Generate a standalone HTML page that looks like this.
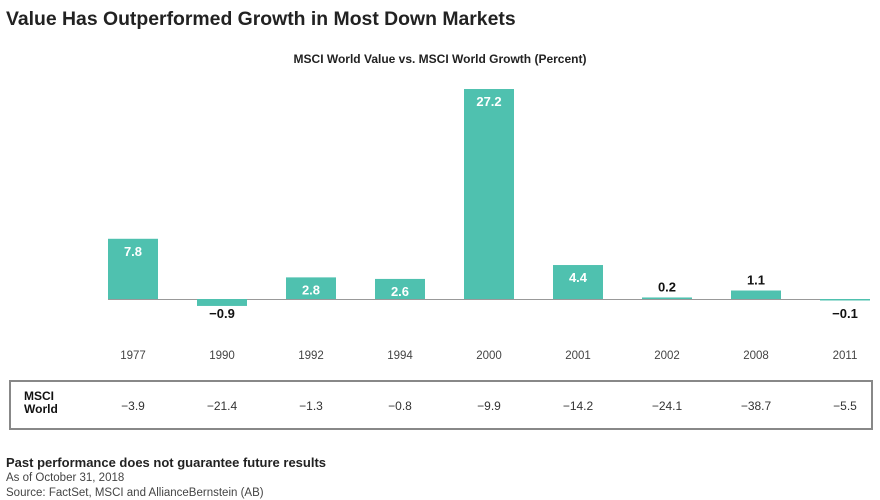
<!DOCTYPE html>
<html><head><meta charset="utf-8"><style>
body{margin:0;background:#fff;font-family:"Liberation Sans",sans-serif;}
svg{display:block}
</style></head><body>
<svg id="c" width="880" height="500" xmlns="http://www.w3.org/2000/svg">
<text x="6" y="25" font-size="19.4" font-weight="bold" fill="#222">Value Has Outperformed Growth in Most Down Markets</text>
<text x="440" y="63" font-size="12" font-weight="bold" fill="#222" text-anchor="middle">MSCI World Value vs. MSCI World Growth (Percent)</text>
<line x1="108" x2="870" y1="299.5" y2="299.5" stroke="#999" stroke-width="1"/>
<g id="bars"></g>
<rect x="10" y="381" width="862" height="48" fill="none" stroke="#888" stroke-width="2"/>
<text x="24" y="400" font-size="12" font-weight="bold" fill="#111"><tspan x="24">MSCI</tspan><tspan x="24" dy="13">World</tspan></text>
<g id="tbl"></g>
<text x="6" y="467" font-size="13" font-weight="bold" fill="#222">Past performance does not guarantee future results</text>
<text x="6" y="481" font-size="11.5" fill="#444">As of October 31, 2018</text>
<text x="6" y="496" font-size="11.5" fill="#444">Source: FactSet, MSCI and AllianceBernstein (AB)</text>
</svg>
<script>
const years=["1977","1990","1992","1994","2000","2001","2002","2008","2011"];
const diffs=[7.8,-0.9,2.8,2.6,27.2,4.4,0.2,1.1,-0.1];
const world=["−3.9","−21.4","−1.3","−0.8","−9.9","−14.2","−24.1","−38.7","−5.5"];
const NS="http://www.w3.org/2000/svg";
const x=i=>133+i*89;
const y=v=>299-v*7.72;
const bars=document.getElementById('bars'),tbl=document.getElementById('tbl');
function mk(tag,attrs,p){const e=document.createElementNS(NS,tag);for(const k in attrs)e.setAttribute(k,attrs[k]);p.appendChild(e);return e;}
diffs.forEach((v,i)=>{
  const top=Math.min(y(v),y(0)),h=Math.max(Math.abs(y(v)-y(0)),1.5);
  const r=mk('rect',{x:x(i)-25,y:top,width:50,height:h,fill:'#4fc1af'},bars);
  
  
  const lbl=v>=2?{y:y(v)+17,fill:'#fff'}:{y:v>=0?y(v)-6:y(0)+19,fill:'#111'};
  const t=mk('text',{x:x(i),y:lbl.y,'font-size':13,'font-weight':'bold',fill:lbl.fill,'text-anchor':'middle'},bars);
  t.textContent=v<0?'−'+Math.abs(v):String(v);
  
  
  const yl=mk('text',{x:x(i),y:359,'font-size':11.5,fill:'#444','text-anchor':'middle'},bars);
  yl.textContent=years[i];
  
  
  const w=mk('text',{x:x(i),y:410,'font-size':12,fill:'#333','text-anchor':'middle'},tbl);
  w.textContent=world[i];
  
  
});
</script>
</body></html>
